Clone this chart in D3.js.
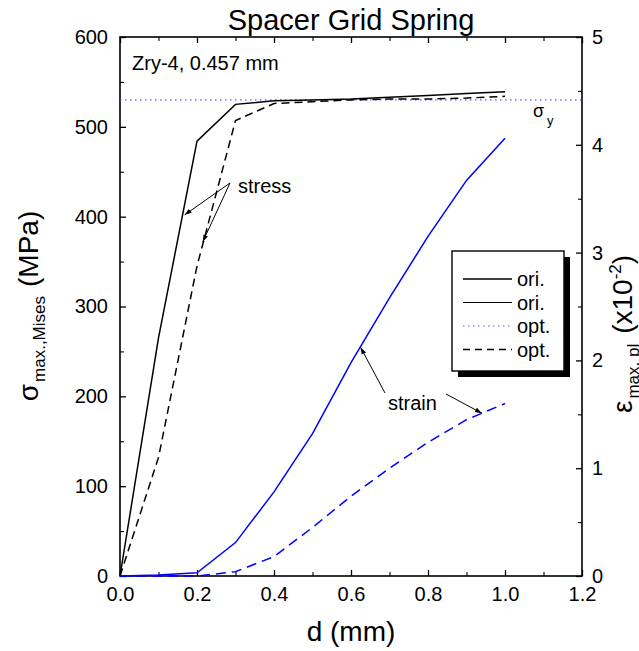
<!DOCTYPE html>
<html>
<head>
<meta charset="utf-8">
<script src="https://cdn.jsdelivr.net/npm/d3@7"></script>
<style>
  body { margin: 0; background: #fff; }
  text { font-family: "Liberation Sans", Arial, sans-serif; fill: #000; }
</style>
</head>
<body>
<div id="chart"></div>
<script>
// displacement (mm)
const dValues = [0, 0.1, 0.2, 0.3, 0.4, 0.5, 0.6, 0.7, 0.8, 0.9, 1.0];
// max von Mises stress (MPa)
const stressOri = [0, 265, 484, 525, 529, 530, 531, 533, 535, 537, 539];
const stressOpt = [0, 132, 345, 507, 526, 528, 530, 531, 531, 532, 534];
// max plastic strain (x10^-2)
const strainOri = [0, 0.01, 0.03, 0.31, 0.78, 1.32, 1.98, 2.58, 3.15, 3.67, 4.06];
const strainOpt = [0, 0, 0, 0.04, 0.18, 0.45, 0.74, 1.0, 1.24, 1.45, 1.6];
const yieldStress = 530;

const xTicks = [0, 0.2, 0.4, 0.6, 0.8, 1.0, 1.2];
const leftTicks = [0, 100, 200, 300, 400, 500, 600];
const rightTicks = [0, 1, 2, 3, 4, 5];

const legendItems = [
  { label: "ori.", color: "#000", dash: null, width: 1.6 },
  { label: "ori.", color: "#000", dash: null, width: 1.2 },
  { label: "opt.", color: "#5555ff", dash: "1.5,3.5", width: 1.2 },
  { label: "opt.", color: "#000", dash: "7,5", width: 1.4 }
];

const width = 639, height = 651;
const margin = { left: 120, top: 37, right: 57, bottom: 75 };
const innerW = width - margin.left - margin.right;
const innerH = height - margin.top - margin.bottom;

const svg = d3.select("#chart").append("svg")
  .attr("width", width)
  .attr("height", height);

const g = svg.append("g")
  .attr("transform", "translate(" + margin.left + "," + margin.top + ")");

const x = d3.scaleLinear().domain([0, 1.2]).range([0, innerW]);
const yL = d3.scaleLinear().domain([0, 600]).range([innerH, 0]);
const yR = d3.scaleLinear().domain([0, 5]).range([innerH, 0]);

// ticks point inward, majors + minors
function drawAxis(axis, minorAxis, transform, cls) {
  const a = g.append("g").attr("class", cls).attr("transform", transform).call(axis);
  a.select(".domain").remove();
  a.selectAll("line").attr("stroke", "#000").attr("stroke-width", 1.3);
  a.selectAll("text").attr("font-size", 20);
  const m = g.append("g").attr("transform", transform).call(minorAxis);
  m.select(".domain").remove();
  m.selectAll("text").remove();
  m.selectAll("line").attr("stroke", "#000").attr("stroke-width", 1.1);
  return a;
}

const xMinor = d3.range(0.1, 1.2, 0.2);
const lMinor = d3.range(50, 600, 100);
const rMinor = d3.range(0.5, 5, 1);

drawAxis(d3.axisBottom(x).tickValues(xTicks).tickFormat(d3.format(".1f")).tickSize(-6).tickPadding(11),
  d3.axisBottom(x).tickValues(xMinor).tickSize(-4), "translate(0," + innerH + ")", "x-axis");
drawAxis(d3.axisTop(x).tickValues(xTicks).tickFormat("").tickSize(-6),
  d3.axisTop(x).tickValues(xMinor).tickSize(-4), "translate(0,0)", "x-top");
drawAxis(d3.axisLeft(yL).tickValues(leftTicks).tickSize(-6).tickPadding(12),
  d3.axisLeft(yL).tickValues(lMinor).tickSize(-4), "translate(0,0)", "y-left");
drawAxis(d3.axisRight(yR).tickValues(rightTicks).tickFormat(d3.format("d")).tickSize(-6).tickPadding(10),
  d3.axisRight(yR).tickValues(rMinor).tickSize(-4), "translate(" + innerW + ",0)", "y-right");

// frame
g.append("rect")
  .attr("width", innerW)
  .attr("height", innerH)
  .attr("fill", "none")
  .attr("stroke", "#000")
  .attr("stroke-width", 1.6);

// yield line
g.append("line")
  .attr("x1", 0).attr("x2", innerW)
  .attr("y1", yL(yieldStress)).attr("y2", yL(yieldStress))
  .attr("stroke", "#5555ff")
  .attr("stroke-width", 1.2)
  .attr("stroke-dasharray", "1.5,3.5");

const lineL = d3.line().x((d, i) => x(dValues[i])).y(d => yL(d));
const lineR = d3.line().x((d, i) => x(dValues[i])).y(d => yR(d));

const curves = [
  { data: stressOri, gen: lineL, color: "#000", dash: null },
  { data: stressOpt, gen: lineL, color: "#000", dash: "8,5" },
  { data: strainOri, gen: lineR, color: "#0000ff", dash: null },
  { data: strainOpt, gen: lineR, color: "#0000ff", dash: "10,6" }
];

curves.forEach(function(c) {
  g.append("path")
    .datum(c.data)
    .attr("d", c.gen)
    .attr("fill", "none")
    .attr("stroke", c.color)
    .attr("stroke-width", 1.5)
    .attr("stroke-dasharray", c.dash);
});

// arrow marker
svg.append("defs").append("marker")
  .attr("id", "arrow")
  .attr("viewBox", "0 0 10 10")
  .attr("refX", 10).attr("refY", 5)
  .attr("markerWidth", 7).attr("markerHeight", 7)
  .attr("orient", "auto")
  .append("path")
  .attr("d", "M0,1.5 L10,5 L0,8.5 Z")
  .attr("fill", "#000");

function arrow(x1, y1, dx, scale, dy) {
  g.append("line")
    .attr("x1", x1).attr("y1", y1)
    .attr("x2", x(dx)).attr("y2", scale(dy))
    .attr("stroke", "#000")
    .attr("stroke-width", 1)
    .attr("marker-end", "url(#arrow)");
}

// annotations
g.append("text").attr("x", 118).attr("y", 156).attr("font-size", 20).text("stress");
arrow(110, 146, 0.168, yL, 402);
arrow(110, 146, 0.215, yL, 372);

g.append("text").attr("x", 268).attr("y", 373).attr("font-size", 20).text("strain");
arrow(265, 356, 0.625, yR, 2.12);
arrow(326, 357, 0.94, yR, 1.51);

g.append("text").attr("x", 12).attr("y", 33).attr("font-size", 20).text("Zry-4, 0.457 mm");

const sy = g.append("text").attr("x", 413).attr("y", 80).attr("font-size", 18);
sy.append("tspan").text("σ");
sy.append("tspan").attr("font-size", 13).attr("dx", 3).attr("dy", 8).text("y");

// legend
const lg = g.append("g").attr("transform", "translate(332,214)");
lg.append("rect").attr("x", 6).attr("y", 6).attr("width", 112).attr("height", 120).attr("fill", "#000");
lg.append("rect").attr("width", 112).attr("height", 120).attr("fill", "#fff")
  .attr("stroke", "#000").attr("stroke-width", 1.4);
legendItems.forEach(function(item, i) {
  const yy = 28 + i * 23.5;
  lg.append("line")
    .attr("x1", 11).attr("x2", 60)
    .attr("y1", yy).attr("y2", yy)
    .attr("stroke", item.color)
    .attr("stroke-width", item.width)
    .attr("stroke-dasharray", item.dash);
  lg.append("text").attr("x", 65).attr("y", yy + 7).attr("font-size", 20).text(item.label);
});

// title and axis labels
svg.append("text")
  .attr("x", margin.left + innerW / 2).attr("y", 30)
  .attr("text-anchor", "middle").attr("font-size", 29)
  .text("Spacer Grid Spring");

svg.append("text")
  .attr("x", margin.left + innerW / 2).attr("y", 641)
  .attr("text-anchor", "middle").attr("font-size", 28)
  .text("d (mm)");

const ll = svg.append("text")
  .attr("transform", "translate(38,306) rotate(-90)")
  .attr("text-anchor", "middle").attr("font-size", 28);
ll.append("tspan").text("σ");
ll.append("tspan").attr("font-size", 17).attr("dy", 7).attr("dx", 2).text("max.,Mises");
ll.append("tspan").attr("dy", -7).attr("dx", 9).text("(MPa)");

const rl = svg.append("text")
  .attr("transform", "translate(632,334) rotate(-90)")
  .attr("text-anchor", "middle").attr("font-size", 28);
rl.append("tspan").text("ε");
rl.append("tspan").attr("font-size", 17).attr("dy", 7).attr("dx", 2).text("max, pl");
rl.append("tspan").attr("dy", -7).attr("dx", 10).text("(x10");
rl.append("tspan").attr("font-size", 17).attr("dy", -11).text("-2");
rl.append("tspan").attr("dy", 11).text(")");
</script>
</body>
</html>
